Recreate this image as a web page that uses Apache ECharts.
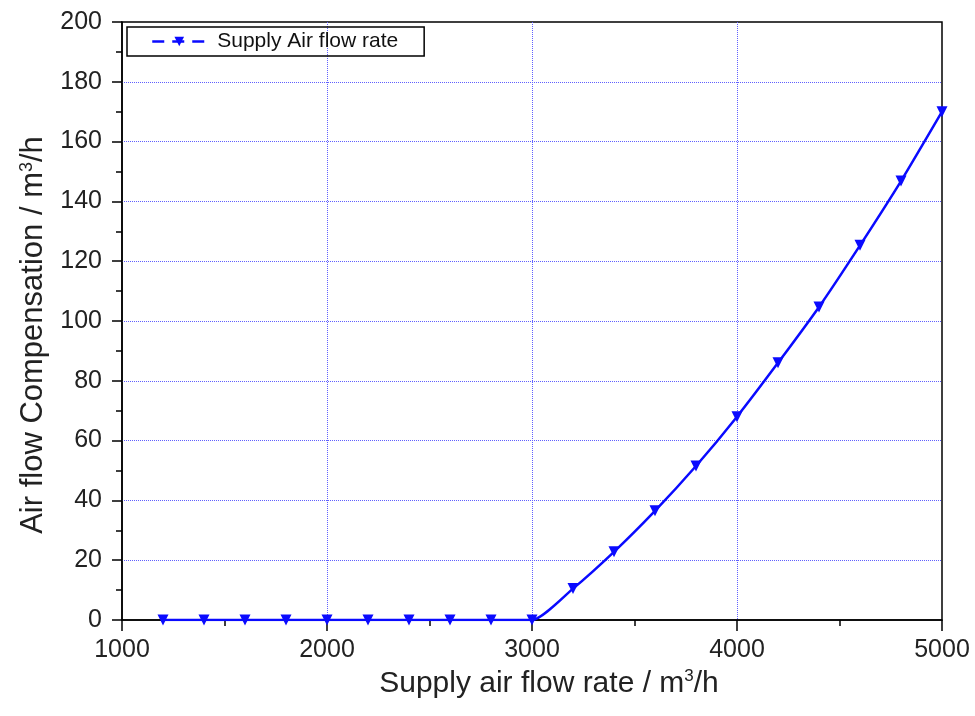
<!DOCTYPE html>
<html>
<head>
<meta charset="utf-8">
<script src="https://cdn.jsdelivr.net/npm/echarts@6/dist/echarts.min.js"></script>
<style>
html, body { margin: 0; padding: 0; background: #fff; }
#main { width: 975px; height: 716px; }
</style>
</head>
<body>
<div id="main"></div>
<script>
// data
var flowRate = [1200, 1400, 1600, 1800, 2000, 2200, 2400, 2600, 2800, 3000,
	3200, 3400, 3600, 3800, 4000, 4200, 4400, 4600, 4800, 5000];
var compensation = [0, 0, 0, 0, 0, 0, 0, 0, 0, 0,
	10.5, 22.8, 36.5, 51.5, 68, 86, 104.7, 125.3, 146.8, 170];
var seriesName = 'Supply Air flow rate';

var points = flowRate.map(function(x, i) { return [x, compensation[i]]; });

var chart = echarts.init(document.getElementById('main'));
var blue = '#0a0aff';
var font = 'Liberation Sans, Arial, sans-serif';
var gridLine = { show: true, showMinLine: false, showMaxLine: false,
	lineStyle: { color: '#6060ff', type: 'dotted', width: 1 } };

var option = {
	backgroundColor: '#fff',
	animation: false,
	grid: {
		left: 122, right: 33, top: 22, bottom: 96,
		show: true, borderColor: '#000', borderWidth: 1.5
	},
	legend: {
		left: 127, top: 27,
		data: [seriesName],
		borderColor: '#000', borderWidth: 1.5, borderRadius: 0,
		padding: [4, 26, 4, 24],
		itemWidth: 54, itemHeight: 12,
		lineStyle: { type: [12, 8], width: 2.5 },
		textStyle: { fontSize: 21, color: '#111', fontFamily: font, padding: [0, 0, 0, 6] }
	},
	xAxis: {
		type: 'value', min: 1000, max: 5000, interval: 1000, z: 3,
		name: 'Supply air flow rate / m{sup|3}/h',
		nameLocation: 'middle', nameGap: 38,
		nameTextStyle: {
			fontSize: 30, color: '#222', fontFamily: font, padding: [0, 0, 0, 34],
			rich: { sup: { fontSize: 17, verticalAlign: 'top', padding: [0, 0, 14, 0] } }
		},
		axisLine: { show: true, onZero: false, lineStyle: { color: '#000', width: 1.5 } },
		axisTick: { show: true, length: 11, lineStyle: { color: '#000', width: 1.5 } },
		minorTick: { show: true, splitNumber: 2, length: 6, lineStyle: { color: '#000', width: 1.5 } },
		axisLabel: { fontSize: 25, color: '#222', margin: 18, fontFamily: font,
			formatter: function(v) { return String(v); } },
		splitLine: gridLine
	},
	yAxis: {
		type: 'value', min: 0, max: 200, interval: 20,
		name: 'Air flow Compensation / m{sup|3}/h',
		nameLocation: 'middle', nameGap: 72,
		nameTextStyle: {
			fontSize: 31, color: '#222', fontFamily: font, padding: [0, 28, 0, 0],
			rich: { sup: { fontSize: 18, verticalAlign: 'top', padding: [0, 0, 14, 0] } }
		},
		axisLine: { show: true, lineStyle: { color: '#000', width: 1.5 } },
		axisTick: { show: true, length: 10, lineStyle: { color: '#000', width: 1.5 } },
		minorTick: { show: true, splitNumber: 2, length: 6, lineStyle: { color: '#000', width: 1.5 } },
		axisLabel: { fontSize: 25, color: '#222', margin: 20, fontFamily: font },
		splitLine: gridLine
	},
	series: [{
		name: seriesName,
		type: 'line',
		data: points,
		smooth: 0.2,
		symbol: 'triangle',
		symbolRotate: 180,
		symbolSize: 11,
		itemStyle: { color: blue },
		lineStyle: { color: blue, width: 2.5 }
	}]
};
chart.setOption(option);
</script>
</body>
</html>
